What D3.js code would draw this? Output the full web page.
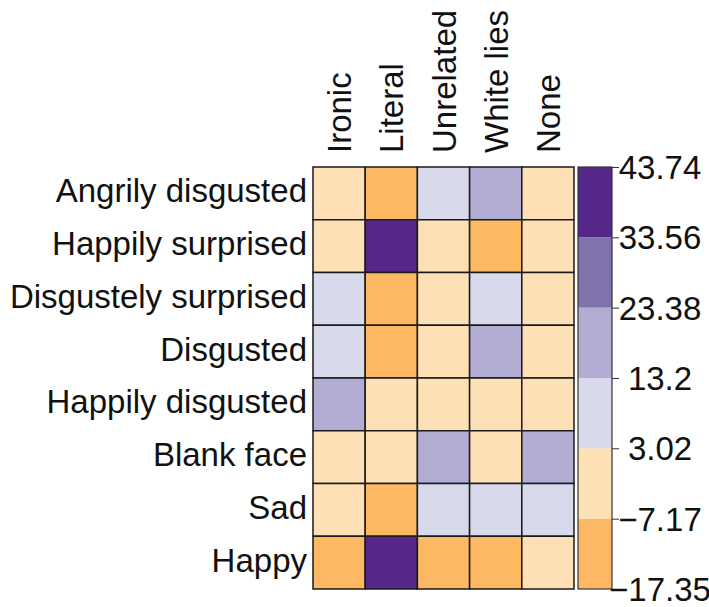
<!DOCTYPE html>
<html>
<head>
<meta charset="UTF-8">
<script src="https://cdn.jsdelivr.net/npm/d3@7"></script>
<style>
    body { margin: 0; background: #fff; }
    text { font-family: 'Liberation Sans', Arial, sans-serif; fill: #111; }
</style>
</head>
<body>
<div id="chart"></div>
<script>
// data
const rows = ["Angrily disgusted", "Happily surprised", "Disgustely surprised", "Disgusted",
              "Happily disgusted", "Blank face", "Sad", "Happy"];
const cols = ["Ironic", "Literal", "Unrelated", "White lies", "None"];
const values = [
    [-3.1, -11.8, 6.9, 16.2, -2.5],
    [-4.0, 41.2, -1.5, -9.6, -3.2],
    [5.8, -12.4, -0.8, 4.6, -2.9],
    [6.3, -13.0, -1.9, 17.1, -3.6],
    [15.4, -5.2, -2.2, -1.0, -4.1],
    [-2.6, -3.8, 14.9, -0.4, 16.8],
    [-1.7, -14.6, 8.2, 7.5, 6.1],
    [-17.35, 43.74, -10.9, -8.8, -4.5]
];
const tickValues = [-17.35, -7.17, 3.02, 13.2, 23.38, 33.56, 43.74];
const tickLabels = ["\u221217.35", "\u22127.17", "3.02", "13.2", "23.38", "33.56", "43.74"];
const binColors = ["#fdb863", "#fee0b6", "#d8daeb", "#b2abd2", "#8073ac", "#542788"];

const width = 709, height = 607;
const grid = {left: 313, right: 574, top: 167, bottom: 589};

const svg = d3.select("#chart").append("svg")
    .attr("width", width)
    .attr("height", height);

const x = d3.scaleBand().domain(cols).range([grid.left, grid.right]);
const y = d3.scaleBand().domain(rows).range([grid.top, grid.bottom]);
const color = d3.scaleQuantize()
    .domain([tickValues[0], tickValues[tickValues.length - 1]])
    .range(binColors);

const cells = [];
values.forEach((r, i) => r.forEach((v, j) => cells.push({row: rows[i], col: cols[j], v: v})));

svg.append("g").selectAll("rect")
    .data(cells)
    .enter()
    .append("rect")
    .attr("x", d => x(d.col))
    .attr("y", d => y(d.row))
    .attr("width", x.bandwidth())
    .attr("height", y.bandwidth())
    .attr("fill", d => color(d.v))
    .attr("stroke", "#1a1a1a")
    .attr("stroke-width", 1.5);

// row labels
svg.append("g").selectAll("text")
    .data(rows)
    .enter()
    .append("text")
    .attr("x", grid.left - 6)
    .attr("y", d => y(d) + y.bandwidth() / 2 + 9)
    .attr("text-anchor", "end")
    .style("font-size", "33px")
    .text(d => d);

// column labels
svg.append("g").selectAll("text")
    .data(cols)
    .enter()
    .append("text")
    .attr("transform", d => `translate(${x(d) + x.bandwidth() / 2 + 12},${grid.top - 14}) rotate(-90)`)
    .attr("text-anchor", "start")
    .style("font-size", "33px")
    .text(d => d);

// colour bar
const cb = {left: 578, right: 612};
const cy = d3.scaleLinear()
    .domain([tickValues[0], tickValues[tickValues.length - 1]])
    .range([grid.bottom, grid.top]);

svg.append("g").selectAll("rect")
    .data(binColors)
    .enter()
    .append("rect")
    .attr("x", cb.left)
    .attr("y", (d, i) => cy(tickValues[i + 1]))
    .attr("width", cb.right - cb.left)
    .attr("height", (d, i) => cy(tickValues[i]) - cy(tickValues[i + 1]))
    .attr("fill", d => d);

svg.append("rect")
    .attr("x", cb.left)
    .attr("y", grid.top)
    .attr("width", cb.right - cb.left)
    .attr("height", grid.bottom - grid.top)
    .attr("fill", "none")
    .attr("stroke", "#333")
    .attr("stroke-width", 1.2);

const axis = d3.axisRight(cy)
    .tickValues(tickValues)
    .tickFormat((d, i) => tickLabels[i])
    .tickSize(7);

const ax = svg.append("g")
    .attr("transform", `translate(${cb.right},0)`)
    .call(axis);
ax.select(".domain").remove();
ax.selectAll(".tick line").attr("stroke", "#333");
ax.selectAll(".tick text")
    .attr("x", 48)
    .attr("text-anchor", "middle")
    .attr("dy", "0.35em")
    .style("font-size", "33px")
    .style("font-family", "'Liberation Sans', Arial, sans-serif")
    .attr("fill", "#111");
</script>
</body>
</html>
